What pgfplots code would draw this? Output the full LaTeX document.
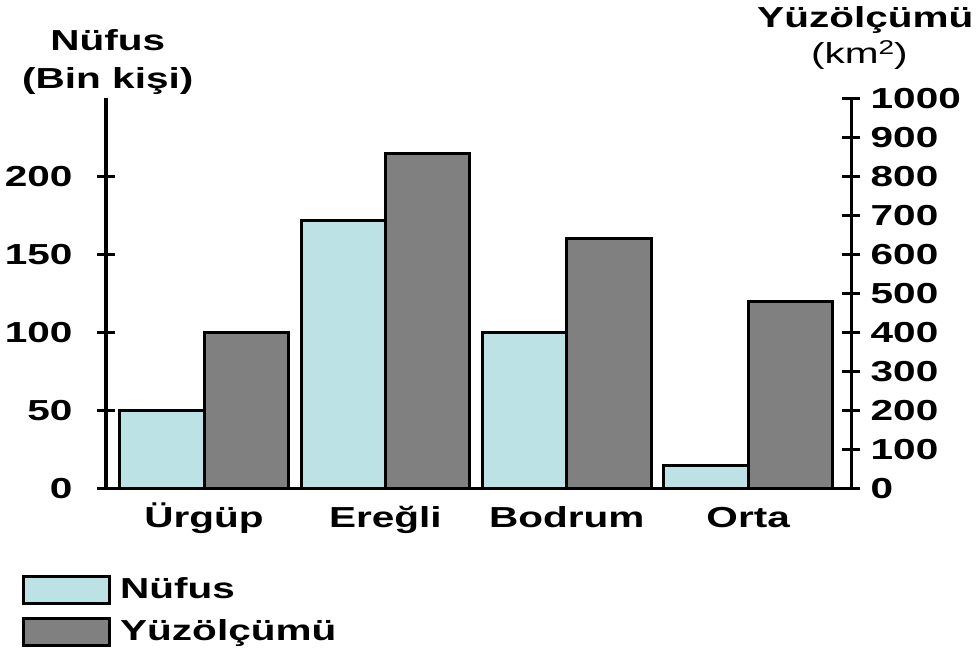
\documentclass[border=0pt]{standalone}
\usepackage{pgfplots}
\pgfplotsset{compat=1.18}
\usepackage{fontspec}
\setmainfont{Liberation Sans}[FakeStretch=1.4]
\definecolor{cyanbar}{HTML}{BCE2E5}
\definecolor{graybar}{HTML}{808080}
\newcommand{\lblfont}{\fontsize{14.5}{17}\selectfont\bfseries}
\begin{document}
\begin{tikzpicture}
\pgfplotsset{
  common/.style={
    scale only axis, width=373.5pt, height=195.5pt,
    xmin=-0.542, xmax=3.569, ymin=0,
    axis line style={-, line width=1.75pt},
    tick align=center, major tick length=9pt,
    y tick style={line width=1.5pt, black},
    /pgf/number format/assume math mode=true,
    /pgf/number format/1000 sep={},
    ticklabel style={font=\lblfont},
    ybar, bar width=42.25pt, clip=false,
  }
}
\begin{axis}[common,
  ymax=250,
  axis x line*=bottom, axis y line*=left,
  xtick={0,1,2,3}, xticklabels={Ürgüp,Ereğli,Bodrum,Orta},
  x tick style={draw=none},
  ytick={0,50,100,150,200},
  yticklabel style={anchor=east, inner sep=0pt, xshift=-12pt},
  xticklabel style={anchor=base, inner sep=0pt, yshift=-10.5pt},
  legend style={at={(axis description cs:-0.1124,-0.22)}, anchor=north west,
    draw=none, fill=none, inner sep=0pt, column sep=4.5pt, row sep=6.25pt,
    nodes={inner sep=0pt, text height=11pt, text depth=2.5pt, font=\lblfont},
    cells={anchor=west}},
  legend image code/.code={\draw[#1] (0pt,-6.75pt) rectangle (43pt,6.75pt);},
]
\addplot[fill=cyanbar, draw=black, line width=1.5pt, bar shift=-21.125pt]
  coordinates {(0,50) (1,172) (2,100) (3,15)};
\addlegendentry{Nüfus}
\addlegendimage{fill=graybar, draw=black, line width=1.5pt}
\addlegendentry{Yüzölçümü}
\draw[line width=1.75pt] (rel axis cs:0,0) -- ++(-8pt,0);
\end{axis}
\begin{axis}[common,
  ymax=1000,
  axis x line=none, axis y line*=right,
  ytick={0,100,...,1000},
  yticklabel style={anchor=west, inner sep=0pt, xshift=5pt},
]
\addplot[fill=graybar, draw=black, line width=1.5pt, bar shift=21.125pt]
  coordinates {(0,400) (1,860) (2,640) (3,480)};
\end{axis}
\node[anchor=base, font=\lblfont] at (1pt,219.5pt) {Nüfus};
\node[anchor=base, font=\lblfont] at (1pt,200.5pt) {(Bin kişi)};
\node[anchor=base, font=\lblfont] at (380.5pt,231pt) {Yüzölçümü};
\node[anchor=base, font=\fontsize{14.5}{17}\selectfont] at (377.5pt,213pt) {(km\raisebox{4.5pt}{\fontsize{10}{12}\selectfont 2})};
\path[use as bounding box] (-53pt,-81.5pt) rectangle (437pt,244.5pt);
\end{tikzpicture}
\end{document}
